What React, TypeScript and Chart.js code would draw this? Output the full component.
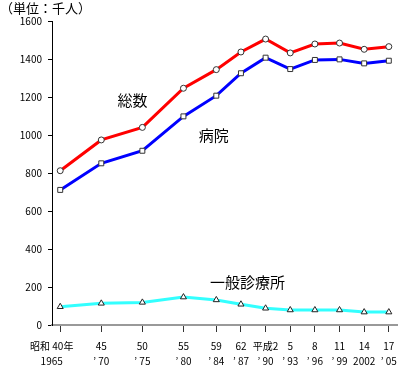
import React, { useEffect, useRef } from "react";
import { Chart, registerables } from "chart.js";

Chart.register(...registerables);

const years = [1965, 1970, 1975, 1980, 1984, 1987, 1990, 1993, 1996, 1999, 2002, 2005];
const tickLine1 = ["昭和 40年\u3000\u2002\u2009", "45", "50", "55", "59", "62", "平成2", "5", "8", "11", "14", "17"];
const tickLine2 = ["1965\u3000\u2002\u2009", "\u2019 70", "\u2019 75", "\u2019 80", "\u2019 84", "\u2019 87", "\u2019 90", "\u2019 93", "\u2019 96", "\u2019 99", "2002", "\u2019 05"];
const totalValues = [812, 974, 1040, 1246, 1344, 1437, 1505, 1432, 1479, 1484, 1451, 1465];
const hospitalValues = [711, 851, 917, 1098, 1207, 1325, 1407, 1347, 1395, 1398, 1377, 1391];
const clinicValues = [96, 114, 119, 147, 132, 109, 88, 79, 79, 79, 68, 68];
const seriesLabels = ["総数", "病院", "一般診療所"];
// label anchor positions in data units (year, value)
const labelYears = [1973.8, 1983.7, 1987.8];
const labelValues = [1184, 1000, 226];

const FONT = "'Noto Sans CJK JP', 'Noto Sans', sans-serif";

export default function App() {
  const ref = useRef<HTMLCanvasElement | null>(null);
  useEffect(() => {
    document.body.style.margin = "0";
    const canvas = ref.current!;
    const labelsPlugin = {
      id: "labelsPlugin",
      afterDraw(chart: any) {
        const ctx = chart.ctx;
        const xs = chart.scales.x;
        const ys = chart.scales.y;
        ctx.save();
        ctx.fillStyle = "#000";
        ctx.font = `13px ${FONT}`;
        ctx.textAlign = "left";
        ctx.textBaseline = "middle";
        ctx.fillText("（単位：千人）", 0, 8);
        ctx.font = `15px ${FONT}`;
        ctx.textAlign = "center";
        seriesLabels.forEach((t, i) => {
          ctx.fillText(t, xs.getPixelForValue(labelYears[i]), ys.getPixelForValue(labelValues[i]));
        });
        ctx.restore();
      },
    };
    const mk = (vals: number[]) => vals.map((v, i) => ({ x: years[i], y: v }));
    const chart = new Chart(canvas, {
      type: "line",
      data: {
        datasets: [
          {
            label: seriesLabels[0],
            data: mk(totalValues),
            borderColor: "#ff0000",
            borderWidth: 3,
            pointStyle: "circle",
            pointRadius: 3,
            pointBackgroundColor: "#ffffff",
            pointBorderColor: "#333333",
            pointBorderWidth: 1,
          },
          {
            label: seriesLabels[1],
            data: mk(hospitalValues),
            borderColor: "#0000ff",
            borderWidth: 3,
            pointStyle: "rect",
            pointRadius: 3.5,
            pointBackgroundColor: "#ffffff",
            pointBorderColor: "#333333",
            pointBorderWidth: 1,
          },
          {
            label: seriesLabels[2],
            data: mk(clinicValues),
            borderColor: "#33ffff",
            borderWidth: 3,
            pointStyle: "triangle",
            pointRadius: 3.5,
            pointBackgroundColor: "#ffffff",
            pointBorderColor: "#222222",
            pointBorderWidth: 1,
          },
        ],
      },
      options: {
        responsive: false,
        animation: false,
        layout: { padding: { top: 21, right: 4, left: 0, bottom: 0 } },
        plugins: { legend: { display: false }, tooltip: { enabled: false } },
        scales: {
          x: {
            type: "linear",
            min: 1964,
            max: 2006,
            afterBuildTicks: (axis: any) => {
              axis.ticks = years.map((v) => ({ value: v }));
            },
            afterFit: (axis: any) => {
              axis.height = 42;
            },
            border: { display: true, color: "#999999", width: 2 },
            grid: { drawOnChartArea: false, drawTicks: true, tickLength: 7, color: "#333333" },
            ticks: {
              autoSkip: false,
              maxRotation: 0,
              padding: 7,
              color: "#000",
              font: { family: FONT, size: 10, lineHeight: 1.5 },
              callback: (value: any) => {
                const i = years.indexOf(Number(value));
                return i >= 0 ? [tickLine1[i], tickLine2[i]] : "";
              },
            },
          },
          y: {
            min: 0,
            max: 1600,
            afterFit: (axis: any) => {
              axis.width = 52;
            },
            border: { display: true, color: "#000000", width: 1 },
            grid: { drawOnChartArea: false, drawTicks: true, tickLength: 4, color: "#000000" },
            ticks: {
              stepSize: 200,
              padding: 6,
              color: "#000",
              font: { family: FONT, size: 10 },
              callback: (value: any) => String(value),
            },
          },
        },
      },
      plugins: [labelsPlugin],
    } as any);
    return () => chart.destroy();
  }, []);
  return <canvas ref={ref} width={404} height={367} style={{ display: "block" }} />;
}
